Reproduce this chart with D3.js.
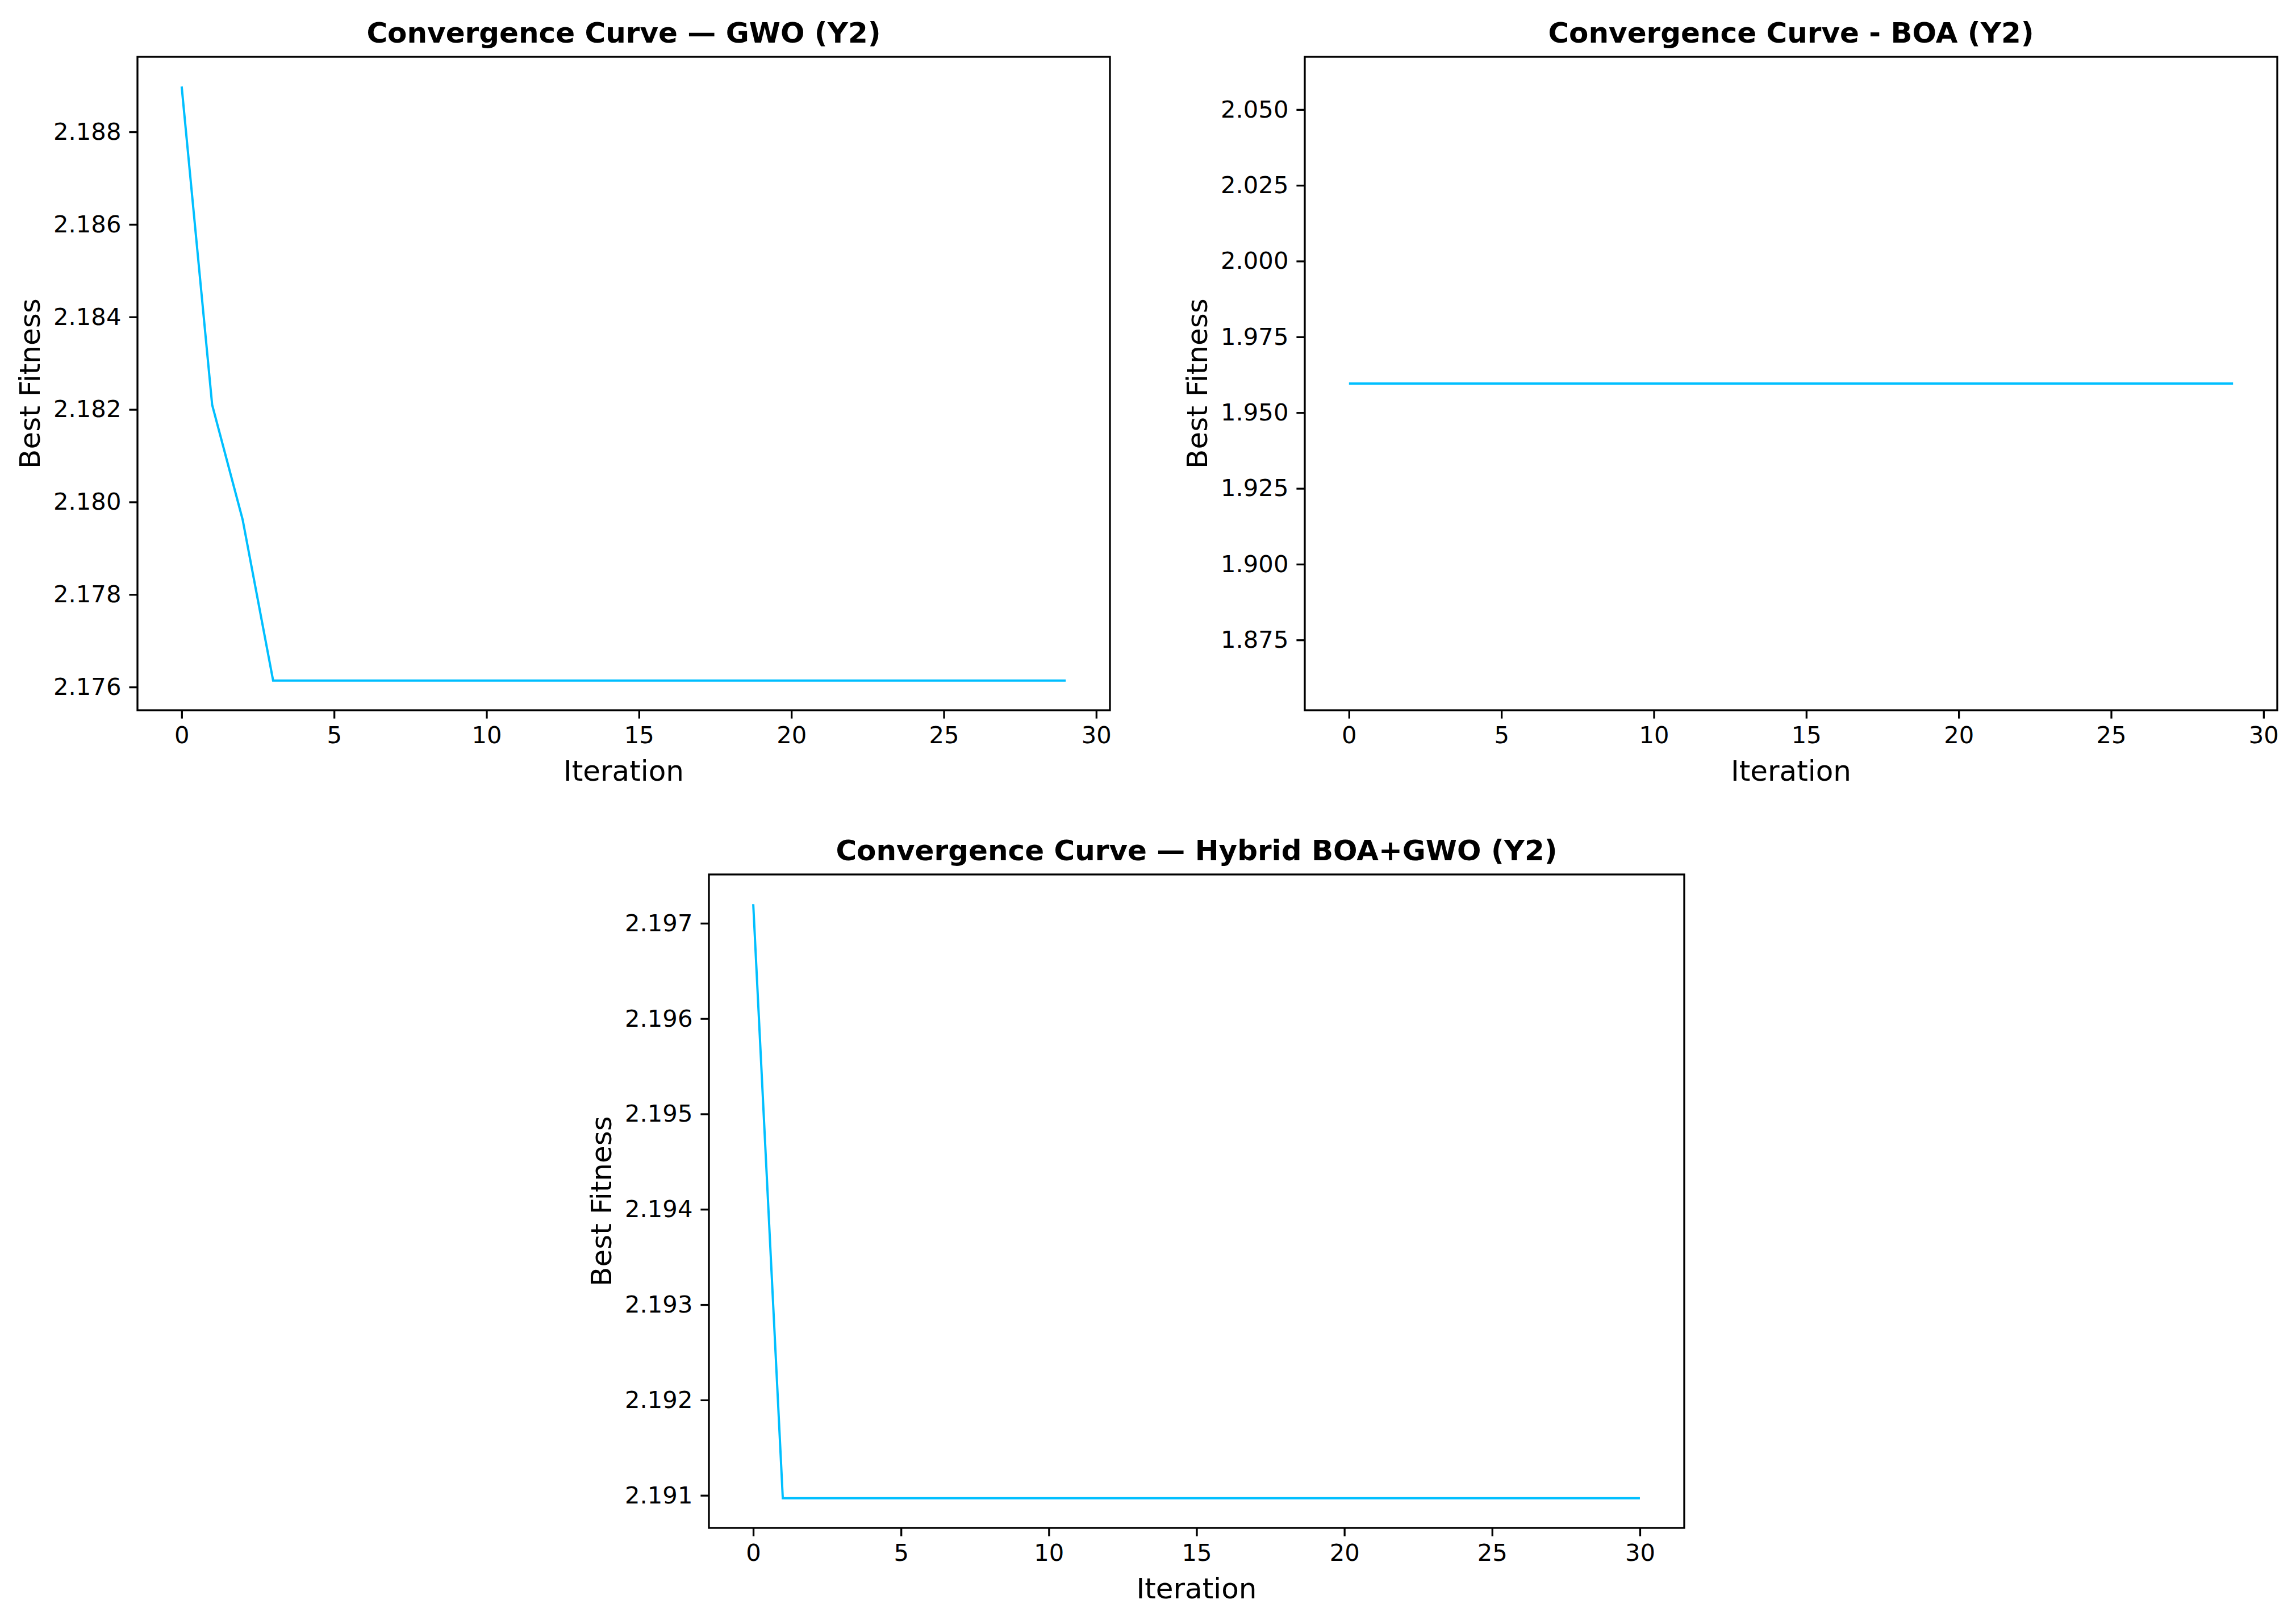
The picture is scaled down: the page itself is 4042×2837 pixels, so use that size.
<!DOCTYPE html>
<html>
<head>
<meta charset="utf-8">
<script src="https://cdn.jsdelivr.net/npm/d3@7"></script>
<style>
  body { margin: 0; background: #fff; }
  text { font-family: "DejaVu Sans", sans-serif; }
</style>
</head>
<body>
<svg id="chart" width="4042" height="2837"></svg>
<script>
// Data
const gwoFitness = [2.18898, 2.18210, 2.17962,
  2.17614, 2.17614, 2.17614, 2.17614, 2.17614, 2.17614, 2.17614, 2.17614, 2.17614,
  2.17614, 2.17614, 2.17614, 2.17614, 2.17614, 2.17614, 2.17614, 2.17614, 2.17614,
  2.17614, 2.17614, 2.17614, 2.17614, 2.17614, 2.17614, 2.17614, 2.17614, 2.17614];
const boaFitness = Array(30).fill(1.9596);
const hybridFitness = [2.19720,
  2.19097, 2.19097, 2.19097, 2.19097, 2.19097, 2.19097, 2.19097, 2.19097, 2.19097, 2.19097,
  2.19097, 2.19097, 2.19097, 2.19097, 2.19097, 2.19097, 2.19097, 2.19097, 2.19097, 2.19097,
  2.19097, 2.19097, 2.19097, 2.19097, 2.19097, 2.19097, 2.19097, 2.19097, 2.19097, 2.19097];
const xTicks = [0, 5, 10, 15, 20, 25, 30];
const gwoTicks = [2.176, 2.178, 2.180, 2.182, 2.184, 2.186, 2.188];
const boaTicks = [1.875, 1.900, 1.925, 1.950, 1.975, 2.000, 2.025, 2.050];
const hybridTicks = [2.191, 2.192, 2.193, 2.194, 2.195, 2.196, 2.197];

const panels = [
  { title: "Convergence Curve — GWO (Y2)", data: gwoFitness, ticks: gwoTicks, fmt: ".3f",
    box: [242, 100, 1954, 1250] },
  { title: "Convergence Curve - BOA (Y2)", data: boaFitness, ticks: boaTicks, fmt: ".3f",
    box: [2297, 100, 4009, 1250], ylim: [1.8518, 2.0674] },
  { title: "Convergence Curve — Hybrid BOA+GWO (Y2)", data: hybridFitness, ticks: hybridTicks, fmt: ".3f",
    box: [1248, 1539, 2965, 2689] }
];

const svg = d3.select("#chart");

panels.forEach(p => {
  const [x0, y0, x1, y1] = p.box;
  const n = p.data.length - 1;
  const x = d3.scaleLinear().domain([-0.05 * n, n * 1.05]).range([x0, x1]);
  let ylim = p.ylim;
  if (!ylim) {
    const [lo, hi] = d3.extent(p.data);
    const m = (hi - lo) * 0.05;
    ylim = [lo - m, hi + m];
  }
  const y = d3.scaleLinear().domain(ylim).range([y1, y0]);
  const g = svg.append("g");

  g.append("path")
    .datum(p.data)
    .attr("fill", "none")
    .attr("stroke", "#00BFFF")
    .attr("stroke-width", 4)
    .attr("d", d3.line().x((d, i) => x(i)).y(d => y(d)));

  const xAxis = g.append("g").attr("transform", `translate(0,${y1})`)
    .call(d3.axisBottom(x).tickValues(xTicks).tickSize(14.6).tickPadding(14).tickFormat(d3.format("d")));
  const yAxis = g.append("g").attr("transform", `translate(${x0},0)`)
    .call(d3.axisLeft(y).tickValues(p.ticks).tickSize(14.6).tickPadding(14).tickFormat(d3.format(p.fmt)));
  [xAxis, yAxis].forEach(a => {
    a.select(".domain").remove();
    a.selectAll("line").attr("stroke-width", 3.3);
    a.selectAll("text").style("font-size", "41.7px").attr("fill", "#000");
  });

  g.append("rect").attr("x", x0).attr("y", y0).attr("width", x1 - x0).attr("height", y1 - y0)
    .attr("fill", "none").attr("stroke", "#000").attr("stroke-width", 3.3);

  g.append("text").attr("x", (x0 + x1) / 2).attr("y", y0 - 25)
    .attr("text-anchor", "middle").style("font-size", "50px").style("font-weight", "bold")
    .text(p.title);
  g.append("text").attr("x", (x0 + x1) / 2).attr("y", y1 + 124)
    .attr("text-anchor", "middle").style("font-size", "50px").text("Iteration");
  g.append("text").attr("transform", `translate(${x0 - 172},${(y0 + y1) / 2}) rotate(-90)`)
    .attr("text-anchor", "middle").style("font-size", "50px").text("Best Fitness");
});
</script>
</body>
</html>
